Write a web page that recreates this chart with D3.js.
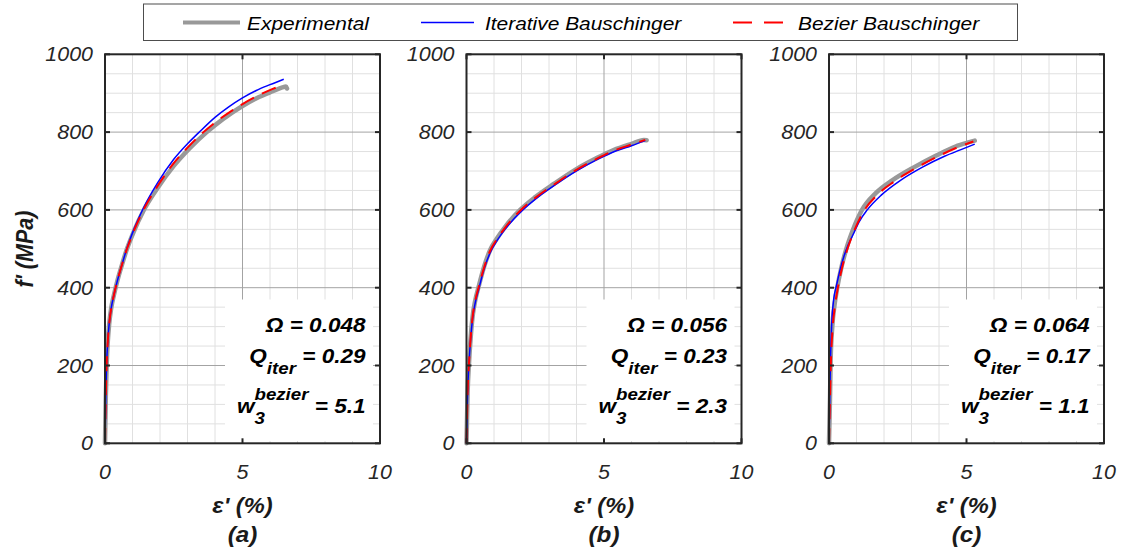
<!DOCTYPE html>
<html>
<head>
<meta charset="utf-8">
<script src="https://cdn.jsdelivr.net/npm/d3@7"></script>
<style>
  body { margin: 0; background: #fff; }
  svg { display: block; }
  text { font-family: "Liberation Sans", Arial, Helvetica, sans-serif; }
</style>
</head>
<body>
<svg id="chart" width="1121" height="554"></svg>
<script>
// ---- Stress-strain curves, strain in %, stress in MPa ----
// Panel (a)
const expA_eps  = [0, 0.03, 0.06, 0.1, 0.15, 0.22, 0.32, 0.45, 0.6, 0.8, 1.05, 1.4, 1.9, 2.5, 3.1, 3.7, 4.3, 5.0, 5.6, 6.1, 6.45, 6.58, 6.62];
const expA_f    = [0, 120, 200, 260, 305, 345, 380, 418, 455, 500, 545, 598, 655, 713, 760, 800, 834, 867, 890, 905, 915, 917, 912];
const iterA_eps = [0, 0.03, 0.06, 0.1, 0.15, 0.22, 0.32, 0.45, 0.6, 0.8, 1.05, 1.4, 1.9, 2.5, 3.0, 3.4, 4.0, 4.5, 5.0, 5.5, 6.0, 6.5];
const iterA_f   = [0, 125, 205, 262, 306, 345, 380, 418, 455, 502, 550, 605, 668, 730, 770, 798, 838, 865, 888, 907, 922, 936];
const bezA_eps  = [0, 0.03, 0.06, 0.1, 0.15, 0.22, 0.32, 0.45, 0.6, 0.8, 1.05, 1.4, 1.9, 2.5, 3.0, 3.55, 4.2, 5.0, 5.6, 6.1, 6.5];
const bezA_f    = [0, 122, 202, 260, 305, 344, 380, 418, 455, 500, 546, 600, 660, 720, 760, 798, 835, 872, 895, 911, 922];
// Panel (b)
const expB_eps  = [0, 0.04, 0.09, 0.15, 0.22, 0.32, 0.45, 0.64, 0.86, 1.1, 1.4, 1.95, 2.5, 3.2, 3.95, 4.7, 5.35, 6.0, 6.45, 6.55];
const expB_f    = [0, 130, 205, 270, 325, 368, 405, 454, 497, 526, 556, 600, 633, 668, 703, 732, 754, 770, 780, 779];
const iterB_eps = [0, 0.04, 0.09, 0.15, 0.22, 0.32, 0.45, 0.64, 0.86, 1.1, 1.4, 2.05, 2.6, 3.3, 4.05, 4.8, 5.45, 6.0, 6.5];
const iterB_f   = [0, 130, 205, 268, 320, 362, 398, 448, 490, 520, 550, 600, 633, 668, 702, 731, 752, 765, 778];
const bezB_eps  = [0, 0.04, 0.09, 0.15, 0.22, 0.32, 0.45, 0.64, 0.86, 1.1, 1.4, 1.95, 2.5, 3.2, 3.95, 4.7, 5.35, 6.0, 6.5];
const bezB_f    = [0, 130, 205, 270, 324, 367, 404, 452, 495, 524, 554, 598, 631, 666, 701, 730, 752, 768, 780];
// Panel (c)
const expC_eps  = [0, 0.04, 0.06, 0.12, 0.2, 0.3, 0.45, 0.63, 0.85, 1.2, 1.7, 2.3, 3.1, 3.9, 4.6, 5.1, 5.3];
const expC_f    = [0, 128, 214, 300, 355, 400, 452, 500, 545, 600, 643, 676, 710, 740, 763, 774, 778];
const iterC_eps = [0, 0.03, 0.06, 0.1, 0.17, 0.27, 0.4, 0.55, 0.7, 0.9, 1.1, 1.39, 1.9, 2.6, 3.4, 4.2, 4.8, 5.3];
const iterC_f   = [0, 130, 230, 310, 370, 405, 445, 482, 510, 540, 570, 600, 638, 676, 710, 738, 755, 769];
const bezC_eps  = [0, 0.04, 0.07, 0.13, 0.21, 0.31, 0.46, 0.65, 0.88, 1.25, 1.75, 2.35, 3.15, 3.95, 4.65, 5.25];
const bezC_f    = [0, 128, 210, 295, 350, 395, 447, 495, 540, 595, 638, 672, 707, 737, 760, 776];

// ---- Labels ----
const panelLabels = ["(a)", "(b)", "(c)"];
const omegaVals   = ["0.048", "0.056", "0.064"];
const qIterVals   = ["0.29", "0.23", "0.17"];
const wBezierVals = ["5.1", "2.3", "1.1"];
const xTicks = [0, 5, 10];
const yTicks = [0, 200, 400, 600, 800, 1000];
const seriesNames = ["Experimental", "Iterative Bauschinger", "Bezier Bauschinger"];

const zip = (a, b) => a.map((v, i) => [v, b[i]]);
const panels = [
  { exp: zip(expA_eps, expA_f), iter: zip(iterA_eps, iterA_f), bez: zip(bezA_eps, bezA_f) },
  { exp: zip(expB_eps, expB_f), iter: zip(iterB_eps, iterB_f), bez: zip(bezB_eps, bezB_f) },
  { exp: zip(expC_eps, expC_f), iter: zip(iterC_eps, iterC_f), bez: zip(bezC_eps, bezC_f) }
];

// ---- Layout ----
const svg = d3.select("#chart");
const SX = 1.1;                 // horizontal stretch applied to all text
const lefts = [105, 466.5, 829];
const pw = 275;
const yTop = 54.3, yBot = 443.3;
const axisColor = "#262626";
const cExp = "#999999", cIter = "#0000ff", cBez = "#ff0000";

const y = d3.scaleLinear().domain([0, 1000]).range([yBot, yTop]);

function sText(parent, x, yy, str, opt = {}) {
  return parent.append("text")
    .attr("transform", `translate(${x},${yy}) scale(${SX},1)`)
    .attr("text-anchor", opt.anchor || "start")
    .attr("font-size", opt.size || 19)
    .attr("font-style", opt.style || "italic")
    .attr("font-weight", opt.weight || "normal")
    .attr("fill", opt.fill || "#000")
    .text(str);
}

// Text line built from pieces; each group shares a start x (sub/superscript stacks)
function richLine(parent, xRight, baseline, groups) {
  const g = parent.append("g").attr("transform", `translate(${xRight},${baseline}) scale(${SX},1)`);
  let cx = 0;
  const all = [];
  groups.forEach(grp => {
    let maxW = 0;
    grp.forEach(pc => {
      const t = g.append("text")
        .attr("x", cx).attr("y", pc.dy || 0)
        .attr("font-size", pc.size || 20.5)
        .attr("font-weight", "bold").attr("font-style", "italic")
        .attr("fill", "#000")
        .text(pc.t);
      maxW = Math.max(maxW, t.node().getComputedTextLength());
      all.push(t);
    });
    cx += maxW;
  });
  all.forEach(t => t.attr("x", +t.attr("x") - cx));
}

const line = (x) => d3.line().x(d => x(d[0])).y(d => y(d[1])).curve(d3.curveMonotoneX);

panels.forEach((p, i) => {
  const x = d3.scaleLinear().domain([0, 10]).range([lefts[i], lefts[i] + pw]);
  const g = svg.append("g");
  const x0 = x(0), x1 = x(10);

  // minor grid
  const xMinor = d3.range(1, 10).filter(v => v % 5 !== 0);
  const yMinor = d3.range(50, 1000, 50).filter(v => v % 200 !== 0);
  g.selectAll(".xm").data(xMinor).join("line")
    .attr("x1", d => x(d)).attr("x2", d => x(d)).attr("y1", yTop).attr("y2", yBot)
    .attr("stroke", "#e0e0e0").attr("stroke-width", 1);
  g.selectAll(".ym").data(yMinor).join("line")
    .attr("x1", x0).attr("x2", x1).attr("y1", d => y(d)).attr("y2", d => y(d))
    .attr("stroke", "#e0e0e0").attr("stroke-width", 1);
  // major grid
  g.selectAll(".xM").data([5]).join("line")
    .attr("x1", d => x(d)).attr("x2", d => x(d)).attr("y1", yTop).attr("y2", yBot)
    .attr("stroke", "#a3a3a3").attr("stroke-width", 1);
  g.selectAll(".yM").data([200, 400, 600, 800]).join("line")
    .attr("x1", x0).attr("x2", x1).attr("y1", d => y(d)).attr("y2", d => y(d))
    .attr("stroke", "#a3a3a3").attr("stroke-width", 1);

  // annotation background
  g.append("rect")
    .attr("x", x0 + 120).attr("y", 299.5)
    .attr("width", pw - 127).attr("height", 141.5)
    .attr("fill", "#fff");

  // curves
  g.append("path").datum(p.exp).attr("d", line(x))
    .attr("fill", "none").attr("stroke", cExp).attr("stroke-width", 4.5)
    .attr("stroke-linecap", "round").attr("stroke-linejoin", "round");
  g.append("path").datum(p.iter).attr("d", line(x))
    .attr("fill", "none").attr("stroke", cIter).attr("stroke-width", 1.5);
  g.append("path").datum(p.bez).attr("d", line(x))
    .attr("fill", "none").attr("stroke", cBez).attr("stroke-width", 2)
    .attr("stroke-dasharray", "15,9");

  // axes box and ticks
  g.append("rect").attr("x", x0).attr("y", yTop).attr("width", x1 - x0).attr("height", yBot - yTop)
    .attr("fill", "none").attr("stroke", axisColor).attr("stroke-width", 2);
  const tl = 5;
  yTicks.forEach(v => {
    g.append("line").attr("x1", x0).attr("x2", x0 + tl).attr("y1", y(v)).attr("y2", y(v))
      .attr("stroke", axisColor).attr("stroke-width", 2);
    g.append("line").attr("x1", x1).attr("x2", x1 - tl).attr("y1", y(v)).attr("y2", y(v))
      .attr("stroke", axisColor).attr("stroke-width", 2);
    sText(g, x0 - 12, y(v) + 7, String(v), { anchor: "end", size: 19.5, fill: axisColor });
  });
  xTicks.forEach(v => {
    g.append("line").attr("x1", x(v)).attr("x2", x(v)).attr("y1", yBot).attr("y2", yBot - tl)
      .attr("stroke", axisColor).attr("stroke-width", 2);
    g.append("line").attr("x1", x(v)).attr("x2", x(v)).attr("y1", yTop).attr("y2", yTop + tl)
      .attr("stroke", axisColor).attr("stroke-width", 2);
    sText(g, x(v), 478.5, String(v), { anchor: "middle", size: 19.5, fill: axisColor });
  });

  // axis and panel labels
  const cx = (x0 + x1) / 2;
  sText(g, cx, 513, "ε' (%)", { anchor: "middle", size: 21.5, weight: "bold", fill: "#1a1a1a" });
  sText(g, cx, 542, panelLabels[i], { anchor: "middle", size: 22, weight: "bold", fill: "#1a1a1a" });

  // annotations
  const xr = x1 - 14.5;
  richLine(g, xr, 332, [[{ t: "Ω = " + omegaVals[i] }]]);
  richLine(g, xr, 362.7, [[{ t: "Q" }], [{ t: "iter", size: 17, dy: 11 }], [{ t: "\u00A0= " + qIterVals[i] }]]);
  richLine(g, xr, 413, [[{ t: "w" }], [{ t: "bezier", size: 17, dy: -13 }, { t: "3", size: 17, dy: 11 }], [{ t: "\u00A0= " + wBezierVals[i] }]]);
});

// y-axis label
svg.append("text")
  .attr("transform", `translate(33,249) scale(${SX},1) rotate(-90)`)
  .attr("text-anchor", "middle")
  .attr("font-size", 21.5).attr("font-weight", "bold").attr("font-style", "italic")
  .attr("fill", "#1a1a1a")
  .text("f' (MPa)");

// ---- Legend ----
const lg = svg.append("g");
lg.append("rect").attr("x", 143.5).attr("y", 4).attr("width", 874).attr("height", 36.5)
  .attr("fill", "#fff").attr("stroke", "#4d4d4d").attr("stroke-width", 1);
const legendItems = [
  { x1: 183, x2: 240, tx: 247, color: cExp, w: 4, dash: null },
  { x1: 421, x2: 474, tx: 485, color: cIter, w: 1.5, dash: null },
  { x1: 733, x2: 784, tx: 798, color: cBez, w: 2, dash: "19,12" }
];
legendItems.forEach((it, k) => {
  const l = lg.append("line").attr("x1", it.x1).attr("x2", it.x2).attr("y1", 22.5).attr("y2", 22.5)
    .attr("stroke", it.color).attr("stroke-width", it.w);
  if (it.dash) l.attr("stroke-dasharray", it.dash);
  sText(lg, it.tx, 29.5, seriesNames[k], { size: 19 });
});
</script>
</body>
</html>
